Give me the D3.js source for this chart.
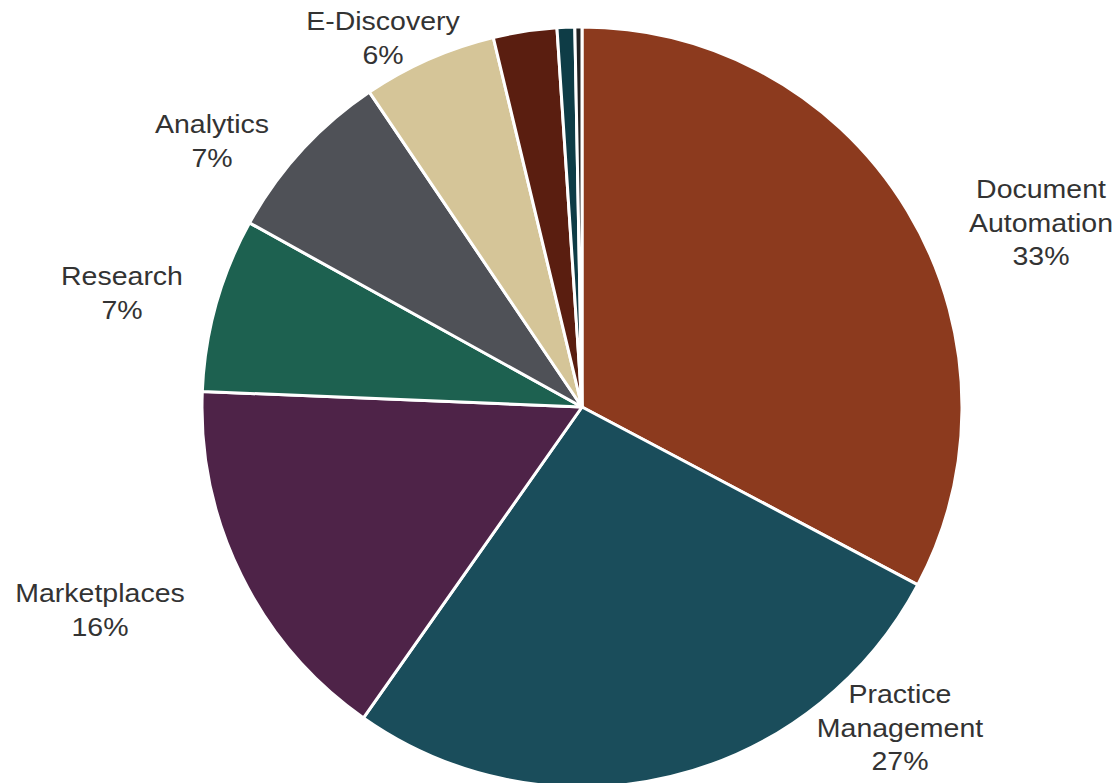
<!DOCTYPE html>
<html>
<head>
<meta charset="utf-8">
<script src="https://cdn.jsdelivr.net/npm/d3@7"></script>
<style>
  html, body { margin: 0; padding: 0; background: #fff; }
  svg { display: block; }
  text { font-family: "Liberation Sans", Arial, sans-serif; fill: #333333; }
</style>
</head>
<body>
<svg id="chart" width="1119" height="783"></svg>
<script>
// Data
const categories = ["Document Automation", "Practice Management", "Marketplaces", "Research", "Analytics", "E-Discovery", "Other 1", "Other 2", "Other 3"];
const values = [32.75, 27.0, 15.9, 7.4, 7.5, 5.7, 2.7, 0.75, 0.3];
const labelLines = [
  ["Document", "Automation", "33%"],
  ["Practice", "Management", "27%"],
  ["Marketplaces", "16%"],
  ["Research", "7%"],
  ["Analytics", "7%"],
  ["E-Discovery", "6%"],
  [], [], []
];
const colors = ["#8C3A1E", "#1A4D5B", "#4E2348", "#1D6150", "#4F5157", "#D5C598", "#5A1E10", "#0E3C46", "#222222"];

// Layout (styling/positions, not data)
const cx = 582, cy = 407, R = 380;
const labelPos = [
  {x: 1041, y: 198},
  {x: 900, y: 703},
  {x: 100, y: 602},
  {x: 122, y: 285},
  {x: 212, y: 133},
  {x: 383, y: 30},
  null, null, null
];
const lineH = 33.5;

const svg = d3.select("#chart");
const g = svg.append("g").attr("transform", `translate(${cx},${cy})`);

const pie = d3.pie().sort(null).value(d => d.v);
const arc = d3.arc().innerRadius(0).outerRadius(R);
const data = categories.map((c, i) => ({c, v: values[i], i}));

g.selectAll("path").data(pie(data)).join("path")
  .attr("d", arc)
  .attr("fill", d => colors[d.data.i])
  .attr("stroke", "#fff")
  .attr("stroke-width", 3)
  .attr("stroke-linejoin", "round");

const lab = svg.append("g");
data.forEach((d, i) => {
  const p = labelPos[i];
  if (!p) return;
  labelLines[i].forEach((line, k) => {
    lab.append("text")
      .attr("transform", `translate(${p.x},${p.y + k * lineH}) scale(1.14,1)`)
      .attr("text-anchor", "middle")
      .attr("font-size", 25)
      .text(line);
  });
});
</script>
</body>
</html>
